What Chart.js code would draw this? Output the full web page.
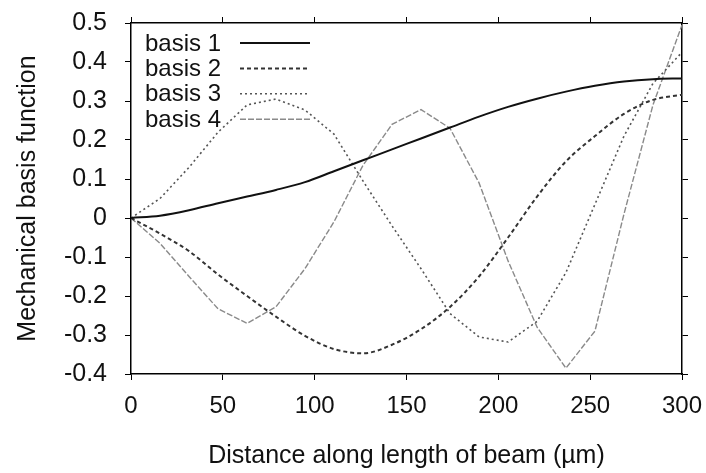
<!DOCTYPE html>
<html>
<head>
<meta charset="utf-8">
<script src="https://cdn.jsdelivr.net/npm/chart.js"></script>
<style>
  html, body { margin: 0; padding: 0; background: #fff; }
  #wrap { width: 706px; height: 473px; }
</style>
</head>
<body>
<div id="wrap"><canvas id="chart"></canvas></div>
<script>
// sample positions along the beam (um)
const distance = [0, 15.8, 31.6, 47.4, 63.2, 78.9, 94.7, 110.5, 126.3, 142.1,
  157.9, 173.7, 189.5, 205.3, 221.1, 236.8, 252.6, 268.4, 284.2, 300];

const basis1 = [0, 0.006, 0.02, 0.038, 0.055, 0.072, 0.092, 0.12, 0.148, 0.176,
  0.204, 0.232, 0.26, 0.285, 0.306, 0.324, 0.339, 0.35, 0.356, 0.358];
const basis2 = [0, -0.04, -0.085, -0.145, -0.2, -0.253, -0.302, -0.336, -0.347, -0.325,
  -0.285, -0.228, -0.15, -0.05, 0.055, 0.145, 0.21, 0.267, 0.303, 0.316];
const basis3 = [0, 0.05, 0.13, 0.22, 0.29, 0.305, 0.277, 0.215, 0.095, -0.02,
  -0.13, -0.245, -0.305, -0.318, -0.265, -0.14, 0.035, 0.21, 0.345, 0.425];
const basis4 = [0, -0.065, -0.15, -0.233, -0.27, -0.228, -0.13, -0.01, 0.135, 0.24,
  0.278, 0.23, 0.09, -0.11, -0.28, -0.385, -0.29, 0.01, 0.29, 0.495];

const seriesNames = ["basis 1", "basis 2", "basis 3", "basis 4"];
const xTicks = [0, 50, 100, 150, 200, 250, 300];
const yTicks = [-0.4, -0.3, -0.2, -0.1, 0, 0.1, 0.2, 0.3, 0.4, 0.5];

const FONT = "'Liberation Sans', Arial, Helvetica, sans-serif";

function points(ys) {
  return distance.map((x, i) => ({ x: x, y: ys[i] }));
}

function fmt(v) {
  return String(Number(v.toFixed(1)));
}

// keep the plot frame where the reference has it, labels may overhang
function noPad(s) {
  s.paddingTop = 0;
  s.paddingBottom = 0;
  s.paddingLeft = 0;
  s.paddingRight = 0;
}

// gnuplot style key: label on the left, line sample on the right
const keyPlugin = {
  id: "key",
  afterDatasetsDraw(chart) {
    const ctx = chart.ctx;
    const area = chart.chartArea;
    const left = area.left + 14;
    const top = area.top + 20;
    ctx.save();
    ctx.font = "24px " + FONT;
    ctx.textBaseline = "middle";
    ctx.textAlign = "left";
    chart.data.datasets.forEach((ds, i) => {
      const y = top + i * 25.4;
      ctx.fillStyle = "#111";
      ctx.fillText(ds.label, left, y + 1);
      ctx.strokeStyle = ds.borderColor;
      ctx.lineWidth = ds.borderWidth;
      ctx.setLineDash(ds.borderDash || []);
      ctx.beginPath();
      ctx.moveTo(left + 95, y);
      ctx.lineTo(left + 165, y);
      ctx.stroke();
    });
    ctx.restore();
  }
};

const tickGrid = {
  drawOnChartArea: false,
  drawTicks: true,
  tickLength: 6,
  tickWidth: 1,
  tickColor: "#000",
  color: "#000"
};
const frame = { display: true, color: "#000", width: 1.5 };

new Chart(document.getElementById("chart"), {
  type: "line",
  data: {
    datasets: [
      { label: seriesNames[0], data: points(basis1), borderColor: "#111", borderWidth: 2, borderDash: [], cubicInterpolationMode: "monotone" },
      { label: seriesNames[1], data: points(basis2), borderColor: "#333", borderWidth: 2, borderDash: [4, 3], cubicInterpolationMode: "monotone" },
      { label: seriesNames[2], data: points(basis3), borderColor: "#555", borderWidth: 1.6, borderDash: [2, 3] },
      { label: seriesNames[3], data: points(basis4), borderColor: "#8a8a8a", borderWidth: 1.4, borderDash: [6, 2] }
    ]
  },
  options: {
    responsive: true,
    maintainAspectRatio: false,
    animation: false,
    layout: { padding: 0 },
    elements: {
      point: { radius: 0 },
      line: { tension: 0, fill: false }
    },
    plugins: {
      legend: { display: false },
      tooltip: { enabled: false }
    },
    scales: {
      x: {
        type: "linear",
        position: "bottom",
        min: 0,
        max: 300,
        afterBuildTicks: s => { s.ticks = xTicks.map(v => ({ value: v })); },
        afterFit: s => { s.height = 99; noPad(s); },
        ticks: { color: "#111", padding: 12, maxRotation: 0, font: { family: FONT, size: 24 } },
        grid: tickGrid,
        border: frame,
        title: {
          display: true,
          text: "Distance along length of beam (µm)",
          color: "#111",
          font: { family: FONT, size: 25, lineHeight: 1.2 },
          padding: { top: 0, bottom: 2 }
        }
      },
      x2: {
        type: "linear",
        position: "top",
        min: 0,
        max: 300,
        afterBuildTicks: s => { s.ticks = xTicks.map(v => ({ value: v })); },
        afterFit: s => { s.height = 23; noPad(s); },
        ticks: { display: false },
        grid: tickGrid,
        border: frame
      },
      y: {
        type: "linear",
        position: "left",
        min: -0.4,
        max: 0.5,
        afterBuildTicks: s => { s.ticks = yTicks.map(v => ({ value: v })); },
        afterFit: s => { s.width = 131; noPad(s); },
        ticks: { color: "#111", padding: 18, callback: v => fmt(v), font: { family: FONT, size: 25 } },
        grid: tickGrid,
        border: frame,
        title: {
          display: true,
          text: "Mechanical basis function",
          color: "#111",
          font: { family: FONT, size: 25, lineHeight: 1.2 },
          padding: { top: 13, bottom: 0 }
        }
      },
      y2: {
        type: "linear",
        position: "right",
        min: -0.4,
        max: 0.5,
        afterBuildTicks: s => { s.ticks = yTicks.map(v => ({ value: v })); },
        afterFit: s => { s.width = 24; noPad(s); },
        ticks: { display: false },
        grid: tickGrid,
        border: frame
      }
    }
  },
  plugins: [keyPlugin]
});
</script>
</body>
</html>
